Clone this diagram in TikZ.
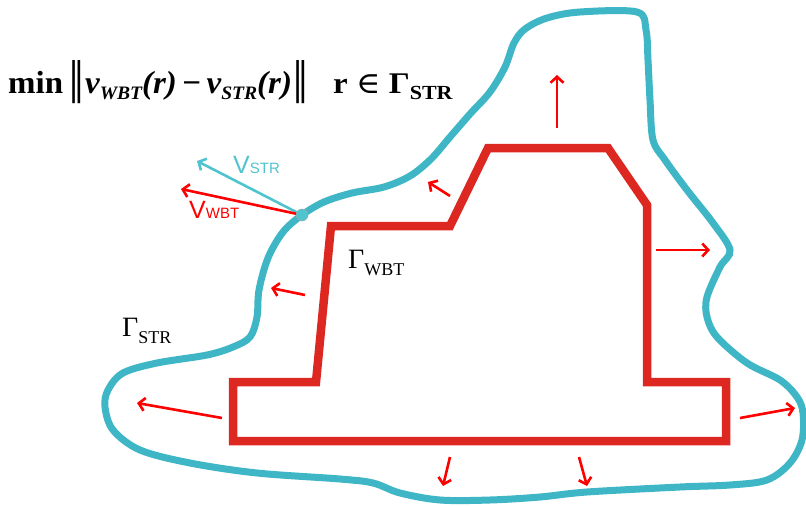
\documentclass[tikz,border=0pt]{standalone}
\usepackage{fontspec}
\setmainfont{Liberation Serif}
\newfontfamily\arialf{Liberation Sans}
\newfontfamily\dvs{DejaVu Serif}
\usetikzlibrary{arrows.meta}
\definecolor{wbtred}{RGB}{220,40,32}
\definecolor{strcyan}{RGB}{62,182,198}
\definecolor{vecred}{RGB}{255,0,0}
\definecolor{veccyan}{RGB}{80,196,206}
\newcommand\lowtext[3]{\raisebox{#1}{\fontsize{#2}{#2}\selectfont #3}}
\newcommand\dbar{{\dvs\mdseries\upshape\scalebox{1}[1.35]{‖}}}
\begin{document}
\begin{tikzpicture}[x=1pt,y=-1pt,
  vec/.style={line width=2.6pt,-{Straight Barb[length=6pt,width=13pt]}},
  txt/.style={inner sep=0pt,anchor=base west}]
\useasboundingbox (0,0) rectangle (806,506);
% structure boundary
\draw[strcyan,line width=7pt] plot[smooth cycle,tension=0.55] coordinates {
(302,215) (324,202) (352,193) (384,187) (410,176) (431,159) (450,137) (470,114)
(490,92) (505,67) (514,43) (525,29) (547,18) (580,12) (637,12) (646,30) (648,60) (650,100)
(653,140) (665,160) (687,190) (713,223) (730,250) (720,267) (707,297) (707,317) (717,337)
(747,363) (780,380) (797,397) (803,413) (802,440) (790,463) (767,480) (730,485) (680,487)
(587,492) (540,497) (490,500) (440,500) (400,493) (373,483) (340,479) (257,473) (190,463)
(140,450) (113,430) (105,407) (108,390) (123,373) (157,363) (207,355) (233,347) (250,337)
(257,317) (259,290) (268,258) (283,232)};
% wind body
\draw[wbtred,line width=8.5pt,line join=miter] (233,382) -- (316,382) -- (331,226) -- (450,226)
 -- (488,148) -- (608,148) -- (647,205) -- (647,382) -- (726,382) -- (726,441) -- (233,441) -- cycle;
% normal arrows
\draw[vecred,vec] (557,128) -- (557,75);
\draw[vecred,vec] (450,196) -- (428,182);
\draw[vecred,vec] (305,295) -- (271,288);
\draw[vecred,vec] (656,250) -- (710,250);
\draw[vecred,vec] (740,418) -- (795,408);
\draw[vecred,vec] (222,418) -- (137,403);
\draw[vecred,vec] (450,457) -- (443,486);
\draw[vecred,vec] (579,457) -- (587,486);
% velocity vectors
\coordinate (p) at (302,215);
\draw[veccyan,vec] (p) -- (197,161);
\draw[vecred,vec] (p) -- (181,189);
\node[circle,fill=veccyan,draw=gray!70,line width=0.5pt,minimum size=12pt,inner sep=0pt] (dot) at (p) {};
% labels
\node[txt,text=veccyan] (vstr) at (233,173) {\arialf\fontsize{25}{25}\selectfont V\fontsize{15}{15}\selectfont STR};
\node[txt,text=vecred] (vwbt) at (189,218) {\arialf\fontsize{25}{25}\selectfont V\fontsize{15}{15}\selectfont WBT};
\node[txt] (gwbt) at (348,268) {\fontsize{28}{28}\selectfont Γ\lowtext{-7pt}{18}{WBT}};
\node[txt] (gstr) at (122,336) {\fontsize{28}{28}\selectfont Γ\lowtext{-7pt}{18}{STR}};
\node[txt,xscale=1.03] (f1) at (8,93) {\fontsize{32}{32}\selectfont\bfseries min\,\dbar\itshape v\lowtext{-6pt}{19}{WBT}(r)\,\upshape−\,\itshape v\lowtext{-6pt}{19}{STR}(r)\dbar};
\node[txt,xscale=1.1] (f2) at (333,93) {\fontsize{30}{30}\selectfont\bfseries r\ {\dvs\mdseries ∈}\ Γ\lowtext{-6pt}{20}{STR}};
\end{tikzpicture}
\end{document}
